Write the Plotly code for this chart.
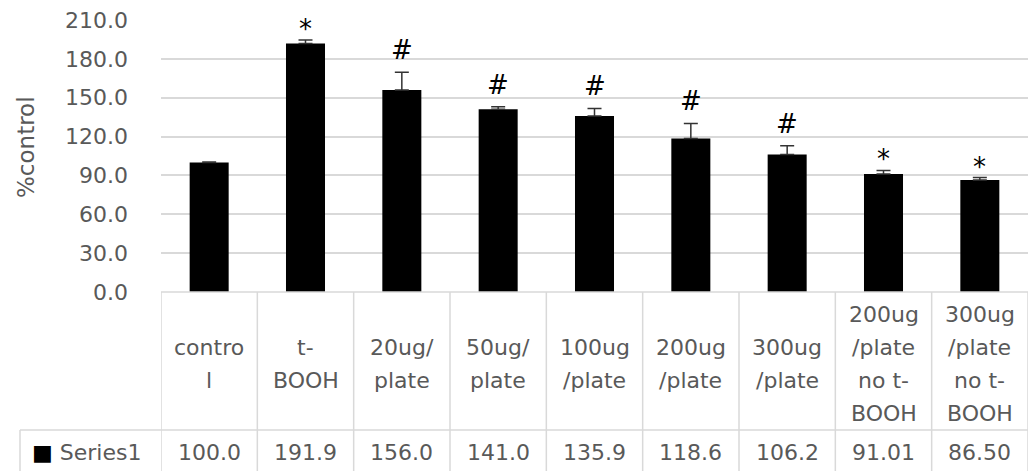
import plotly.graph_objects as go

# Treatment groups, their mean response (% of control) and error
categories = ["control", "t-BOOH", "20ug/plate", "50ug/plate", "100ug/plate",
              "200ug/plate", "300ug/plate", "200ug/plate no t-BOOH",
              "300ug/plate no t-BOOH"]
label_lines = [["contro", "l"], ["t-", "BOOH"], ["20ug/", "plate"],
               ["50ug/", "plate"], ["100ug", "/plate"], ["200ug", "/plate"],
               ["300ug", "/plate"], ["200ug", "/plate", "no t-", "BOOH"],
               ["300ug", "/plate", "no t-", "BOOH"]]
values = [100.0, 191.9, 156.0, 141.0, 135.9, 118.6, 106.2, 91.01, 86.50]
errors = [0.4, 2.6, 13.6, 2.0, 5.8, 11.5, 6.7, 2.8, 1.9]
marks = ["", "*", "#", "#", "#", "#", "#", "*", "*"]
series_name = "Series1"
y_title = "%control"
y_ticks = [0, 30, 60, 90, 120, 150, 180, 210]

W, H = 1028, 471
ML, MR, MT, MB = 161, 0, 20, 179
PLOT_H = H - MT - MB
PLOT_W = W - ML - MR
GREY = "#595959"
GRID = "#d9d9d9"
FONT = "DejaVu Sans"


def py(px):
    """Pixel row in the page -> paper y."""
    return (H - MB - px) / PLOT_H


def pxx(px):
    """Pixel column in the page -> paper x."""
    return (px - ML) / PLOT_W


def fmt(v):
    digits = len(str(int(v)))
    return f"{v:.{max(4 - digits, 0)}f}"


x_idx = list(range(len(categories)))

fig = go.Figure()
fig.add_trace(go.Bar(
    x=x_idx, y=values, name=series_name,
    marker=dict(color="black", line=dict(width=0)),
    error_y=dict(type="data", array=errors, arrayminus=[0] * len(errors),
                 symmetric=False, color="#333333", thickness=1.5, width=7),
    hovertext=categories,
))

annotations = []
# significance marks above each error bar
mark_shift = {"*": -6, "#": 5}
for i, (v, e, m) in enumerate(zip(values, errors, marks)):
    if not m:
        continue
    annotations.append(dict(
        x=i, y=v + e, xref="x", yref="y", text=m, showarrow=False,
        yanchor="bottom", yshift=mark_shift[m],
        font=dict(family=FONT, size=26, color="black")))

# data table: category labels
for i, lines in enumerate(label_lines):
    n = len(lines)
    for j, line in enumerate(lines):
        ypx = 364 + (j - (n - 1) / 2) * 33
        annotations.append(dict(
            x=i, y=py(ypx), xref="x", yref="paper", text=line,
            showarrow=False, yanchor="middle", xanchor="center",
            font=dict(family=FONT, size=22, color=GREY)))

# data table: values row
for i, v in enumerate(values):
    annotations.append(dict(
        x=i, y=py(452), xref="x", yref="paper", text=fmt(v),
        showarrow=False, yanchor="middle", xanchor="center",
        font=dict(family=FONT, size=22, color=GREY)))

annotations.append(dict(
    x=pxx(30), y=py(452), xref="paper", yref="paper",
    text=f"<span style='color:black'>■</span> {series_name}",
    showarrow=False, xanchor="left", yanchor="middle",
    font=dict(family=FONT, size=22, color=GREY)))

# y axis title
annotations.append(dict(
    x=pxx(26), y=py(147), xref="paper", yref="paper", text=y_title,
    textangle=-90, showarrow=False, xanchor="center", yanchor="middle",
    font=dict(family=FONT, size=23, color=GREY)))

shapes = []
line_style = dict(color=GRID, width=1.5)
for b in range(len(categories) + 1):
    shapes.append(dict(type="line", xref="x", yref="paper",
                       x0=b - 0.5, x1=b - 0.5, y0=0, y1=py(H + 5),
                       line=line_style, layer="below"))
shapes.append(dict(type="line", xref="paper", yref="paper",
                   x0=pxx(20), x1=1, y0=py(430), y1=py(430), line=line_style))
shapes.append(dict(type="line", xref="paper", yref="paper",
                   x0=pxx(20), x1=pxx(20), y0=py(430), y1=py(H + 5),
                   line=line_style))
shapes.append(dict(type="line", xref="paper", yref="paper",
                   x0=0, x1=1, y0=0, y1=0, line=line_style))

fig.update_layout(
    width=W, height=H,
    margin=dict(l=ML, r=MR, t=MT, b=MB, pad=0),
    paper_bgcolor="white", plot_bgcolor="white",
    showlegend=False, bargap=0.595,
    font=dict(family=FONT, color=GREY),
    annotations=annotations, shapes=shapes,
    xaxis=dict(range=[-0.5, len(categories) - 0.5], showticklabels=False,
               showgrid=False, zeroline=False, showline=False, ticks=""),
    yaxis=dict(range=[0, 210], tickvals=y_ticks, tickformat=".1f",
               showgrid=True, gridcolor=GRID, gridwidth=1.5, zeroline=False,
               showline=False, ticks="", ticklabelstandoff=32,
               tickfont=dict(family=FONT, size=22, color=GREY)),
)

fig.write_html("out.html")
